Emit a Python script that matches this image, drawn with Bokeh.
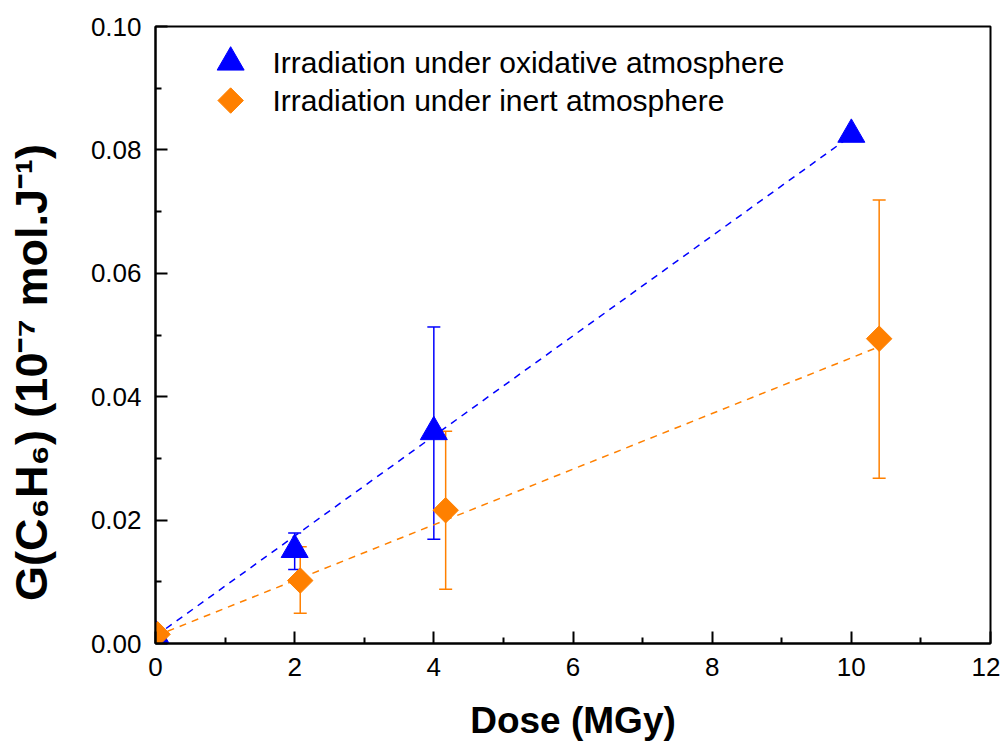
import math
from bokeh.plotting import figure
from bokeh.models import (ColumnDataSource, Whisker, TeeHead, Label, FixedTicker,
                          NumeralTickFormatter, Range1d)
from bokeh.embed import file_html
from bokeh.resources import INLINE

# ---- data ----
dose_ox = [0.0, 2.0, 4.0, 10.0]
g_ox = [0.0013, 0.0152, 0.0343, 0.0825]
ox_err_dose = [2.0, 4.0]
ox_err_lo = [0.0120, 0.0169]
ox_err_hi = [0.0179, 0.0513]

dose_in = [0.03, 2.08, 4.17, 10.40]
g_in = [0.0015, 0.0102, 0.0216, 0.0494]
in_err_dose = [2.08, 4.17, 10.40]
in_err_lo = [0.0049, 0.0088, 0.0268]
in_err_hi = [0.0157, 0.0344, 0.0719]

fit_ox_x = [0.0, 10.0]
fit_ox_y = [0.0012, 0.0823]
fit_in_x = [0.0, 10.40]
fit_in_y = [0.0012, 0.0481]

x_ticks = [0, 2, 4, 6, 8, 10, 12]
y_ticks = [0.0, 0.02, 0.04, 0.06, 0.08, 0.10]

label_ox = "Irradiation under oxidative atmosphere"
label_in = "Irradiation under inert atmosphere"
x_title = "Dose (MGy)"
y_title = "G(C\u2086H\u2086) (10\u207b\u2077 mol.J\u207b\u00b9)"

BLUE = "#0000FF"
ORANGE = "#FF8000"
FONT = "Liberation Sans"

p = figure(frame_width=835, frame_height=617, output_backend="svg",
           toolbar_location=None, x_range=Range1d(0, 12), y_range=Range1d(0, 0.10),
           min_border_left=155, min_border_right=10, min_border_top=26,
           min_border_bottom=60)
p.background_fill_color = "white"
p.border_fill_color = "white"
p.xgrid.visible = False
p.ygrid.visible = False
p.outline_line_color = "black"
p.outline_line_width = 2
p.outline_line_alpha = 1.0

# fit lines
p.line(fit_ox_x, fit_ox_y, line_color=BLUE, line_width=1.5, line_dash="7 6")
p.line(fit_in_x, fit_in_y, line_color=ORANGE, line_width=1.5, line_dash="7 6")

# error bars
src_ox_err = ColumnDataSource(dict(x=ox_err_dose, lo=ox_err_lo, hi=ox_err_hi))
src_in_err = ColumnDataSource(dict(x=in_err_dose, lo=in_err_lo, hi=in_err_hi))
for src, col in ((src_ox_err, BLUE), (src_in_err, ORANGE)):
    w = Whisker(source=src, base="x", lower="lo", upper="hi", dimension="height",
                line_color=col, line_width=1.5,
                upper_head=TeeHead(size=13, line_color=col, line_width=1.5),
                lower_head=TeeHead(size=13, line_color=col, line_width=1.5))
    p.add_layout(w)

# markers
p.scatter(dose_ox, g_ox, marker="triangle", size=27, fill_color=BLUE, line_color=BLUE)
p.scatter(dose_in, g_in, marker="square", size=18, angle=math.pi / 4,
          fill_color=ORANGE, line_color=ORANGE)

# manual legend (layout positions in data units)
leg_x = 1.08
leg_text_x = 1.68
leg_y = [0.0942, 0.0880]
p.scatter([leg_x], [leg_y[0]], marker="triangle", size=27, fill_color=BLUE, line_color=BLUE)
p.scatter([leg_x], [leg_y[1]], marker="square", size=18, angle=math.pi / 4,
          fill_color=ORANGE, line_color=ORANGE)
for ty, txt in zip(leg_y, [label_ox, label_in]):
    p.add_layout(Label(x=leg_text_x, y=ty, text=txt, text_font=FONT,
                       text_font_size="30px", text_baseline="middle",
                       text_align="left", text_color="black"))

# axes
for ax in (p.xaxis[0], p.yaxis[0]):
    ax.axis_line_width = 2
    ax.axis_line_color = "black"
    ax.major_tick_in = 12
    ax.major_tick_out = 0
    ax.minor_tick_in = 6
    ax.minor_tick_out = 0
    ax.major_tick_line_width = 2
    ax.minor_tick_line_width = 2
    ax.major_tick_line_color = "black"
    ax.minor_tick_line_color = "black"
    ax.major_label_text_font = FONT
    ax.major_label_text_font_size = "26px"
    ax.major_label_text_color = "black"
    ax.major_label_standoff = 14
    ax.axis_label_text_font = FONT
    ax.axis_label_text_font_style = "bold"
    ax.axis_label_text_color = "black"

p.xaxis.axis_label_text_font_size = "37px"
p.yaxis.axis_label_text_font_size = "45px"
p.xaxis.ticker = FixedTicker(ticks=x_ticks, minor_ticks=[1, 3, 5, 7, 9, 11])
p.yaxis.ticker = FixedTicker(ticks=y_ticks, minor_ticks=[0.01, 0.03, 0.05, 0.07, 0.09])
p.yaxis.formatter = NumeralTickFormatter(format="0.00")
# trailing no-break spaces shift the rotated title down, as in the reference
p.yaxis.axis_label = y_title + "\u00a0" * 6
p.yaxis.axis_label_standoff = 31
p.xaxis.axis_label = x_title
p.xaxis.axis_label_standoff = 21

open("out.html", "w").write(file_html(p, INLINE))
